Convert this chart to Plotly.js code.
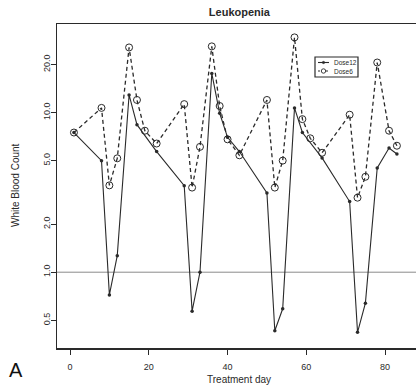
<!DOCTYPE html>
<html>
<head>
<meta charset="utf-8">
<script src="https://cdn.plot.ly/plotly-3.0.1.min.js"></script>
<style>
html,body{margin:0;padding:0;overflow:hidden;background:#fff;}
#chart{width:420px;height:386px;}
</style>
</head>
<body>
<div id="chart"></div>
<script>
// Treatment day and white blood count per series
const dose12Days = [1, 8, 10, 12, 15, 17, 22, 29, 31, 33, 36, 38, 40, 43, 50, 52, 54, 57, 59, 64, 71, 73, 75, 78, 81, 83];
const dose12WBC  = [7.5, 5.0, 0.72, 1.27, 12.9, 8.4, 5.7, 3.48, 0.57, 1.0, 17.6, 9.9, 7.0, 5.7, 3.14, 0.43, 0.59, 10.7, 7.5, 5.2, 2.77, 0.42, 0.64, 4.5, 6.0, 5.5];

const dose6Days = [1, 8, 10, 12, 15, 17, 19, 22, 29, 31, 33, 36, 38, 40, 43, 50, 52, 54, 57, 59, 61, 64, 71, 73, 75, 78, 81, 83];
const dose6WBC  = [7.5, 10.7, 3.5, 5.17, 25.6, 12.0, 7.7, 6.4, 11.3, 3.39, 6.1, 26.0, 11.0, 6.8, 5.4, 12.0, 3.39, 5.0, 29.6, 9.1, 6.9, 5.6, 9.7, 2.93, 3.96, 20.6, 7.7, 6.2];

const seriesNames = ["Dose12", "Dose6"];
const xTicks = [0, 20, 40, 60, 80];
const yTicks = [0.5, 1.0, 2.0, 5.0, 10.0, 20.0];
const yTickLabels = ["0.5", "1.0", "2.0", "5.0", "10.0", "20.0"];
const referenceLevel = 1.0;
const xTitle = "Treatment day";
const yTitle = "White Blood Count";

const ink = "#2a2a2a";
const font = "Liberation Sans, Arial, Helvetica, sans-serif";

// plot-area geometry (pixels) for placing the hand-drawn legend and titles in paper coordinates
const M = {l: 57, r: 3, t: 24, b: 38}, W = 420, H = 386;
const PW = W - M.l - M.r, PH = H - M.t - M.b;
const px = v => (v - M.l) / PW;
const py = v => (H - M.b - v) / PH;

const traces = [
  {
    x: dose12Days, y: dose12WBC, name: seriesNames[0],
    type: "scatter", mode: "lines+markers",
    line: {color: ink, width: 1.1},
    marker: {symbol: "circle", size: 3.5, color: ink}
  },
  {
    x: dose6Days, y: dose6WBC, name: seriesNames[1],
    type: "scatter", mode: "lines+markers",
    line: {color: ink, width: 1.3, dash: "4px,3px"},
    marker: {symbol: "circle-open", size: 7, color: ink, line: {width: 1, color: ink}}
  }
];

// legend drawn like the R-style small boxed key
const legRows = [62.5, 71];
const legShapes = [
  {type: "rect", xref: "paper", yref: "paper", x0: px(315), x1: px(358), y0: py(57), y1: py(77),
   line: {color: ink, width: 1.2}, fillcolor: "#fff"},
  {type: "line", xref: "paper", yref: "paper", x0: px(318), x1: px(329), y0: py(legRows[0]), y1: py(legRows[0]),
   line: {color: ink, width: 1.1}},
  {type: "circle", xref: "paper", yref: "paper", x0: px(322.3), x1: px(324.7), y0: py(legRows[0] + 1.2), y1: py(legRows[0] - 1.2),
   line: {color: ink, width: 0.5}, fillcolor: ink},
  {type: "line", xref: "paper", yref: "paper", x0: px(318), x1: px(329), y0: py(legRows[1]), y1: py(legRows[1]),
   line: {color: ink, width: 1.1, dash: "2px,2px"}},
  {type: "circle", xref: "paper", yref: "paper", x0: px(321.3), x1: px(325.7), y0: py(legRows[1] + 2.2), y1: py(legRows[1] - 2.2),
   line: {color: ink, width: 0.9}, fillcolor: "#fff"}
];
const legAnn = seriesNames.map((n, i) => ({
  text: n, xref: "paper", yref: "paper", x: px(332), y: py(legRows[i]),
  xanchor: "left", yanchor: "middle", showarrow: false,
  font: {size: 6.5, family: font, color: ink}
}));

const layout = {
  width: W, height: H,
  margin: M,
  paper_bgcolor: "#fff", plot_bgcolor: "#fff",
  font: {family: font, color: ink, size: 9},
  title: {text: "<b>Leukopenia</b>", font: {size: 11, family: font, color: ink}, x: 0.57, xanchor: "center", y: 0.968, yanchor: "middle"},
  showlegend: false,
  xaxis: {
    range: [-3.3, 88.1],
    tickvals: xTicks, ticktext: xTicks.map(String),
    ticks: "outside", ticklen: 5, tickwidth: 1, tickcolor: ink,
    ticklabelstandoff: 5,
    showline: true, linecolor: ink, linewidth: 1.5, mirror: true,
    showgrid: false, zeroline: false,
    tickfont: {size: 9, family: font, color: ink}
  },
  yaxis: {
    type: "log",
    range: [Math.log10(0.335), Math.log10(35.9)],
    tickvals: yTicks, ticktext: yTickLabels, tickangle: -90,
    ticks: "outside", ticklen: 5, tickwidth: 1, tickcolor: ink,
    ticklabelstandoff: -3,
    showline: true, linecolor: ink, linewidth: 1.5, mirror: true,
    showgrid: false, zeroline: false,
    tickfont: {size: 9, family: font, color: ink}
  },
  shapes: [
    {type: "line", xref: "paper", x0: 0, x1: 1, yref: "y", y0: referenceLevel, y1: referenceLevel,
     line: {color: "#8a8a8a", width: 1}, layer: "below"}
  ].concat(legShapes),
  annotations: [
    {text: "A", xref: "paper", yref: "paper", x: px(15.5), y: py(369.5), xanchor: "center", yanchor: "middle",
     showarrow: false, font: {size: 20, family: font, color: "#111"}},
    {text: xTitle, xref: "paper", yref: "paper", x: px(239), y: py(379), xanchor: "center", yanchor: "middle",
     showarrow: false, font: {size: 10, family: font, color: ink}},
    {text: yTitle, xref: "paper", yref: "paper", x: px(15), y: py(185), xanchor: "center", yanchor: "middle",
     textangle: -90, showarrow: false, font: {size: 10, family: font, color: ink}}
  ].concat(legAnn)
};

Plotly.newPlot("chart", traces, layout, {displayModeBar: false, staticPlot: true});
</script>
</body>
</html>
